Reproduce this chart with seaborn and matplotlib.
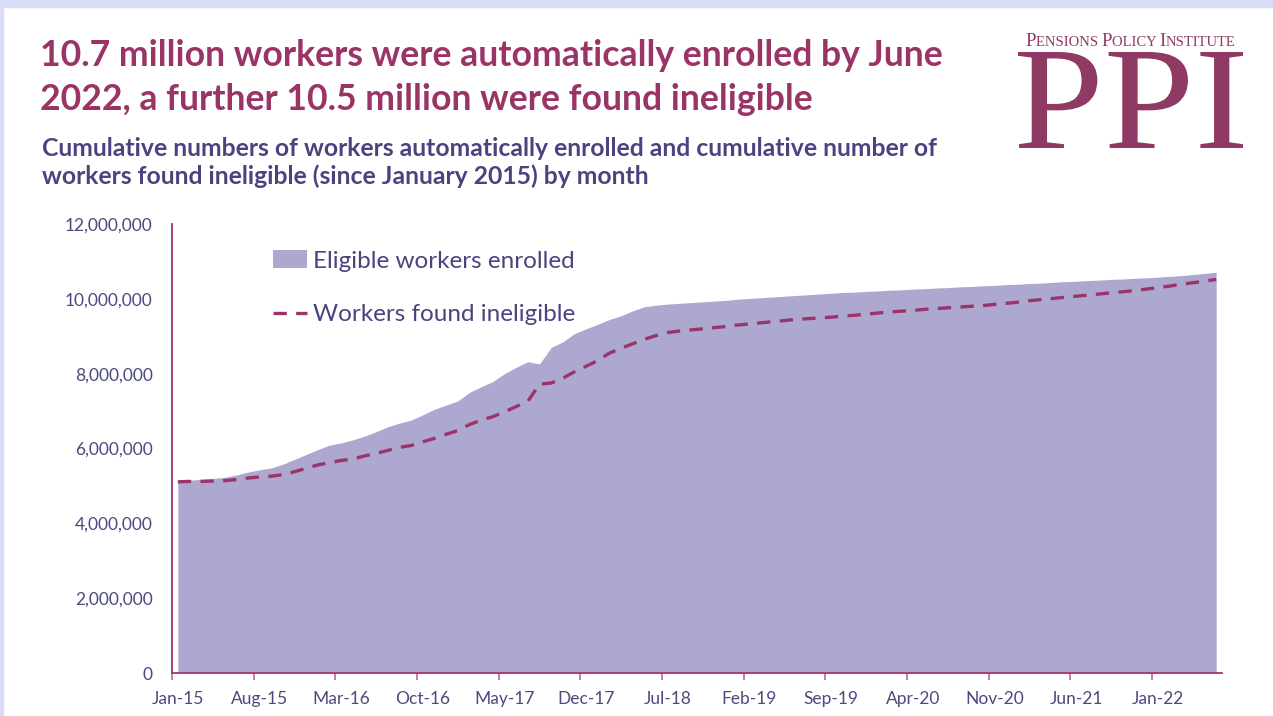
import numpy as np
import matplotlib
matplotlib.use("Agg")
import matplotlib.pyplot as plt
import seaborn as sns
import pandas as pd
from matplotlib.patches import Patch, Rectangle, PathPatch
from matplotlib.lines import Line2D
from matplotlib.ticker import FuncFormatter, FixedLocator
from matplotlib.textpath import TextPath
from matplotlib.font_manager import FontProperties
from matplotlib.transforms import Affine2D, IdentityTransform

# monthly data, Jan-15 .. Jun-22 (millions)
enrolled = [
    5.13, 5.15, 5.18, 5.20, 5.23, 5.29, 5.37, 5.43, 5.48, 5.58, 5.71, 5.84,
    5.97, 6.09, 6.15, 6.23, 6.33, 6.45, 6.58, 6.68, 6.76, 6.90, 7.05, 7.16,
    7.27, 7.50, 7.65, 7.79, 8.00, 8.17, 8.32, 8.26, 8.70, 8.85, 9.07, 9.20,
    9.32, 9.45, 9.55, 9.68, 9.79, 9.83, 9.86, 9.88, 9.90, 9.92, 9.94, 9.96,
    9.99, 10.01, 10.03, 10.05, 10.07, 10.09, 10.11, 10.13, 10.15, 10.17, 10.18, 10.20,
    10.21, 10.23, 10.24, 10.26, 10.27, 10.29, 10.30, 10.32, 10.33, 10.35, 10.36, 10.38,
    10.39, 10.41, 10.42, 10.44, 10.46, 10.47, 10.49, 10.50, 10.52, 10.53, 10.55, 10.56,
    10.58, 10.60, 10.62, 10.65, 10.68, 10.71,
]
ineligible = [
    5.11, 5.12, 5.12, 5.13, 5.14, 5.17, 5.21, 5.24, 5.26, 5.30, 5.38, 5.47,
    5.56, 5.62, 5.68, 5.72, 5.80, 5.87, 5.95, 6.03, 6.08, 6.18, 6.27, 6.38,
    6.48, 6.64, 6.76, 6.85, 6.98, 7.12, 7.26, 7.72, 7.75, 7.88, 8.05, 8.20,
    8.35, 8.55, 8.68, 8.80, 8.92, 9.02, 9.10, 9.14, 9.17, 9.20, 9.23, 9.26,
    9.30, 9.33, 9.36, 9.39, 9.42, 9.45, 9.47, 9.49, 9.51, 9.54, 9.56, 9.59,
    9.62, 9.65, 9.67, 9.69, 9.72, 9.74, 9.76, 9.78, 9.80, 9.82, 9.85, 9.88,
    9.91, 9.95, 9.98, 10.01, 10.04, 10.07, 10.10, 10.13, 10.16, 10.19, 10.22, 10.26,
    10.30, 10.34, 10.39, 10.43, 10.47, 10.52,
]
tick_labels = ["Jan-15", "Aug-15", "Mar-16", "Oct-16", "May-17", "Dec-17", "Jul-18",
               "Feb-19", "Sep-19", "Apr-20", "Nov-20", "Jun-21", "Jan-22"]
y_ticks = [0, 2e6, 4e6, 6e6, 8e6, 10e6, 12e6]

df = pd.DataFrame({
    "month": np.arange(len(enrolled)),
    "enrolled": np.array(enrolled) * 1e6,
    "ineligible": np.array(ineligible) * 1e6,
})

AREA = "#ada8d0"
MAGENTA = "#9b3468"
TITLE = "#9b3466"
NAVY = "#4b4380"
TXT = "#4a4a7e"
LOGO = "#8f3a64"

sns.set_theme(style="white")
plt.rcParams["font.family"] = ["Lato", "DejaVu Sans"]

W, H = 1273, 716
fig = plt.figure(figsize=(W / 100, H / 100), dpi=100)
fig.patch.set_facecolor("white")
# light frame at the top and left edge
fig.patches.append(Rectangle((0, 1 - 7 / H), 1, 7 / H, transform=fig.transFigure,
                             color="#d9ddf7", zorder=0))
fig.patches.append(Rectangle((0, 0), 3 / W, 1, transform=fig.transFigure,
                             color="#d9ddf7", zorder=0))

ax = fig.add_axes([172 / W, 43 / H, 1050 / W, 449 / H])

ax.fill_between(df["month"], 0, df["enrolled"], color=AREA, linewidth=0, zorder=1)
sns.lineplot(data=df, x="month", y="ineligible", ax=ax, color=MAGENTA,
             linewidth=2.4, dashes=False, zorder=2)
ax.lines[-1].set_dashes([4, 2.8])

ax.set_xlim(-0.5, len(enrolled) - 0.5)
ax.set_ylim(0, 12e6)
ax.set_xlabel("")
ax.set_ylabel("")

# tick marks between categories, labels on categories
ax.xaxis.set_major_locator(FixedLocator([7 * k - 0.5 for k in range(len(tick_labels))]))
ax.xaxis.set_minor_locator(FixedLocator([7 * k for k in range(len(tick_labels))]))
ax.set_xticklabels([], minor=False)
ax.set_xticklabels(tick_labels, minor=True)
ax.tick_params(axis="x", which="major", length=5, width=1.2, color="#c06a96",
               direction="out", bottom=True)
ax.tick_params(axis="x", which="minor", length=0, pad=13, labelsize=12.5,
               labelcolor=TXT)
ax.set_yticks(y_ticks)
ax.yaxis.set_major_formatter(FuncFormatter(lambda v, p: f"{int(v):,}"))
ax.tick_params(axis="y", length=0, pad=14, labelsize=12.5, labelcolor=TXT)

for s in ["top", "right"]:
    ax.spines[s].set_visible(False)
for s in ["left", "bottom"]:
    ax.spines[s].set_color("#a4376f")
    ax.spines[s].set_linewidth(1.3)
ax.grid(False)
ax.set_facecolor("white")

handles = [Patch(facecolor=AREA, edgecolor="none"),
           Line2D([0], [0], color=MAGENTA, lw=2.4, dashes=[4, 2.8])]
leg = ax.legend(handles, ["Eligible workers enrolled", "Workers found ineligible"],
                loc="upper left", bbox_to_anchor=(0.075, 0.99), frameon=False,
                fontsize=17.5, labelspacing=1.32, handlelength=1.4,
                handletextpad=0.25, handleheight=0.75)
for t in leg.get_texts():
    t.set_color(NAVY)

# titles
fig.text(40 / W, 1 - 66 / H,
         "10.7 million workers were automatically enrolled by June",
         fontsize=25.7, fontweight="bold", color=TITLE, va="baseline")
fig.text(40 / W, 1 - 110 / H,
         "2022, a further 10.5 million were found ineligible",
         fontsize=25.7, fontweight="bold", color=TITLE, va="baseline")
fig.text(42 / W, 1 - 156 / H,
         "Cumulative numbers of workers automatically enrolled and cumulative number of",
         fontsize=17.85, fontweight="bold", color=NAVY, va="baseline")
fig.text(42 / W, 1 - 184 / H,
         "workers found ineligible (since January 2015) by month",
         fontsize=17.85, fontweight="bold", color=NAVY, va="baseline")

# logo: small caps line built piece by piece
renderer = fig.canvas.get_renderer()
pieces = [("P", 13.6), ("ENSIONS ", 10.5), ("P", 13.6), ("OLICY ", 10.5),
          ("I", 13.6), ("NSTITUTE", 10.5)]
x_px = 1025
for txt, size in pieces:
    t = fig.text(x_px / W, 1 - 46 / H, txt, family="Liberation Serif",
                 fontsize=size, color=LOGO, ha="left", va="baseline")
    x_px += t.get_window_extent(renderer).width

# big "PPI" letters, stretched to fill the logo box (pixels from top-left)
ppi = TextPath((0, 0), "PPI", size=100, prop=FontProperties(family="Liberation Serif"))
ext = ppi.get_extents()
x0, x1, top, bottom = 1018, 1243, 52, 148
sx = (x1 - x0) / ext.width
sy = (bottom - top) / ext.height
tr = (Affine2D().translate(-ext.x0, -ext.y0).scale(sx, sy)
      .translate(x0, H - bottom) + IdentityTransform())
fig.patches.append(PathPatch(ppi, transform=tr, facecolor=LOGO, edgecolor="none"))

fig.savefig("out.png", dpi=100)
